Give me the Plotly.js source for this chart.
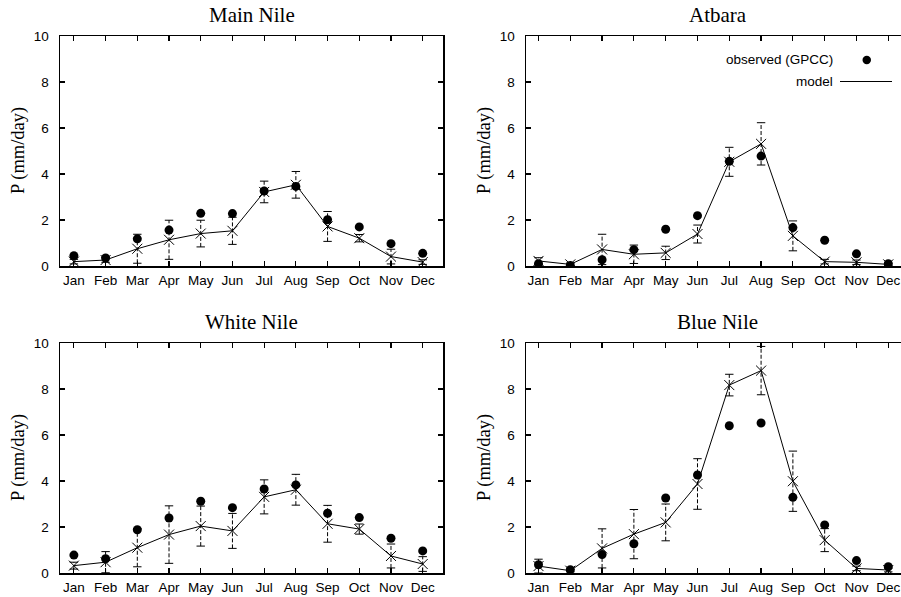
<!DOCTYPE html>
<html>
<head>
<meta charset="utf-8">
<script src="https://cdn.plot.ly/plotly-3.0.1.min.js"></script>
<style>html,body{margin:0;padding:0;background:#fff;}#chart{width:901px;height:597px;}</style>
</head>
<body>
<div id="chart"></div>
<script>
const months = ['Jan','Feb','Mar','Apr','May','Jun','Jul','Aug','Sep','Oct','Nov','Dec'];
const monthIdx = [1,2,3,4,5,6,7,8,9,10,11,12];
const panelTitles = ['Main Nile','Atbara','White Nile','Blue Nile'];
const yTicks = [0,2,4,6,8,10];

const mainObs   = [0.45,0.35,1.18,1.56,2.29,2.28,3.26,3.46,2.01,1.70,0.97,0.55];
const mainModel = [0.19,0.26,0.75,1.14,1.41,1.53,3.22,3.53,1.72,1.21,0.41,0.17];
const mainErr   = [0.10,0.10,0.63,0.85,0.58,0.59,0.47,0.58,0.65,0.16,0.32,0.10];

const atbObs   = [0.10,0.02,0.27,0.71,1.60,2.19,4.55,4.78,1.67,1.12,0.53,0.10];
const atbModel = [0.22,0.07,0.72,0.51,0.57,1.39,4.53,5.31,1.31,0.19,0.16,0.07];
const atbErr   = [0.14,0.05,0.66,0.40,0.29,0.39,0.63,0.92,0.65,0.10,0.10,0.05];

const whiteObs   = [0.78,0.62,1.88,2.39,3.12,2.84,3.65,3.83,2.60,2.41,1.51,0.96];
const whiteModel = [0.32,0.47,1.10,1.67,2.04,1.83,3.31,3.62,2.14,1.91,0.74,0.39];
const whiteErr   = [0.15,0.46,0.83,1.25,0.87,0.76,0.74,0.67,0.80,0.22,0.52,0.32];

const blueObs   = [0.36,0.14,0.80,1.27,3.26,4.26,6.40,6.52,3.29,2.09,0.54,0.27];
const blueModel = [0.30,0.10,1.07,1.69,2.20,3.87,8.17,8.80,3.99,1.43,0.20,0.13];
const blueErr   = [0.30,0.05,0.85,1.07,0.80,1.10,0.47,1.05,1.31,0.50,0.10,0.08];

const panels = [
  {obs: mainObs, model: mainModel, err: mainErr},
  {obs: atbObs, model: atbModel, err: atbErr},
  {obs: whiteObs, model: whiteModel, err: whiteErr},
  {obs: blueObs, model: blueModel, err: blueErr}
];

const W = 901, H = 597;
const sans = 'Liberation Sans, Arial, sans-serif';
const serif = 'Liberation Serif, Times New Roman, serif';

// pixel layout of the four frames
const frames = [
  {l: 60,  r: 443, t: 36,  b: 266, xr: [0.562, 12.64]},
  {l: 526, r: 901, t: 36,  b: 266, xr: [0.607, 12.40]},
  {l: 60,  r: 443, t: 343, b: 573, xr: [0.562, 12.64]},
  {l: 526, r: 901, t: 343, b: 573, xr: [0.607, 12.40]}
];

const traces = [];
const layout = {
  width: W, height: H,
  margin: {l: 0, r: 0, t: 0, b: 0},
  paper_bgcolor: '#fff', plot_bgcolor: '#fff',
  showlegend: false,
  annotations: [], shapes: []
};

panels.forEach((p, i) => {
  const n = i + 1;
  const xa = n === 1 ? 'x' : 'x' + n;
  const ya = n === 1 ? 'y' : 'y' + n;
  const f = frames[i];
  const right = (i % 2 === 1);

  // error bars (dashed vertical lines)
  const ex = [], ey = [], cx = [], cy = [];
  monthIdx.forEach((m, k) => {
    ex.push(m, m, null);
    ey.push(p.model[k] - p.err[k], p.model[k] + p.err[k], null);
    cx.push(m, m);
    cy.push(p.model[k] - p.err[k], p.model[k] + p.err[k]);
  });
  traces.push({x: ex, y: ey, xaxis: xa, yaxis: ya, mode: 'lines', type: 'scatter',
    line: {color: '#000', width: 1, dash: '4px,2px'}, connectgaps: false, hoverinfo: 'skip'});
  traces.push({x: cx, y: cy, xaxis: xa, yaxis: ya, mode: 'markers', type: 'scatter',
    marker: {symbol: 'line-ew-open', size: 6, color: '#000', line: {color: '#000', width: 1}}, hoverinfo: 'skip'});
  // model line with crosses
  traces.push({x: monthIdx, y: p.model, xaxis: xa, yaxis: ya, mode: 'lines+markers', type: 'scatter',
    line: {color: '#000', width: 1},
    marker: {symbol: 'x-thin-open', size: 10, color: '#000', line: {color: '#000', width: 1}}, name: 'model'});
  // observed dots
  traces.push({x: monthIdx, y: p.obs, xaxis: xa, yaxis: ya, mode: 'markers', type: 'scatter',
    marker: {symbol: 'circle', size: 9, color: '#000'}, name: 'observed (GPCC)'});

  const xKey = n === 1 ? 'xaxis' : 'xaxis' + n;
  const yKey = n === 1 ? 'yaxis' : 'yaxis' + n;
  layout[xKey] = {
    domain: [f.l / W, f.r / W], anchor: ya, range: f.xr,
    tickvals: monthIdx, ticktext: months, ticks: 'inside', ticklen: 5, tickwidth: 1.2,
    tickcolor: '#000', showline: true, linecolor: '#000', linewidth: 1.5, mirror: 'ticks',
    showgrid: false, zeroline: false, ticklabelstandoff: 1,
    tickfont: {family: sans, size: 13.5, color: '#000'}, fixedrange: true
  };
  layout[yKey] = {
    domain: [(H - f.b) / H, (H - f.t) / H], anchor: xa, range: [0, 10],
    tickvals: yTicks, ticks: 'inside', ticklen: 5, tickwidth: 1.2, tickcolor: '#000',
    showline: true, linecolor: '#000', linewidth: 1.5, mirror: right ? false : 'ticks',
    showgrid: false, zeroline: false, ticklabelstandoff: 7,
    tickfont: {family: sans, size: 13.5, color: '#000'}, fixedrange: true
  };

  // panel title
  layout.annotations.push({
    text: panelTitles[i], xref: 'paper', yref: 'paper',
    x: (f.l + 383 / 2) / W, y: 1 - (f.t - 21) / H, xanchor: 'center', yanchor: 'middle',
    showarrow: false, font: {family: serif, size: 21, color: '#000'}
  });
  // y axis title
  layout.annotations.push({
    text: 'P (mm/day)', xref: 'paper', yref: 'paper', textangle: -90,
    x: (f.l - 42) / W, y: 1 - ((f.t + f.b) / 2) / H, xanchor: 'center', yanchor: 'middle',
    showarrow: false, font: {family: serif, size: 18.5, color: '#000'}
  });
});

// legend drawn inside the Atbara frame (text left of symbol, gnuplot style)
layout.annotations.push({
  text: 'observed (GPCC)', xref: 'paper', yref: 'paper', x: 835 / W, y: 1 - 60 / H,
  xanchor: 'right', yanchor: 'middle', showarrow: false, font: {family: sans, size: 13.5, color: '#000'}
});
layout.annotations.push({
  text: 'model', xref: 'paper', yref: 'paper', x: 835 / W, y: 1 - 81.5 / H,
  xanchor: 'right', yanchor: 'middle', showarrow: false, font: {family: sans, size: 13.5, color: '#000'}
});
layout.shapes.push({type: 'circle', xref: 'paper', yref: 'paper',
  x0: 862.5 / W, x1: 871 / W, y0: 1 - 64.2 / H, y1: 1 - 55.8 / H,
  fillcolor: '#000', line: {color: '#000', width: 0}});
layout.shapes.push({type: 'line', xref: 'paper', yref: 'paper',
  x0: 840 / W, x1: 892 / W, y0: 1 - 81.5 / H, y1: 1 - 81.5 / H,
  line: {color: '#000', width: 1}});

Plotly.newPlot('chart', traces, layout, {staticPlot: true, displayModeBar: false});
</script>
</body>
</html>
